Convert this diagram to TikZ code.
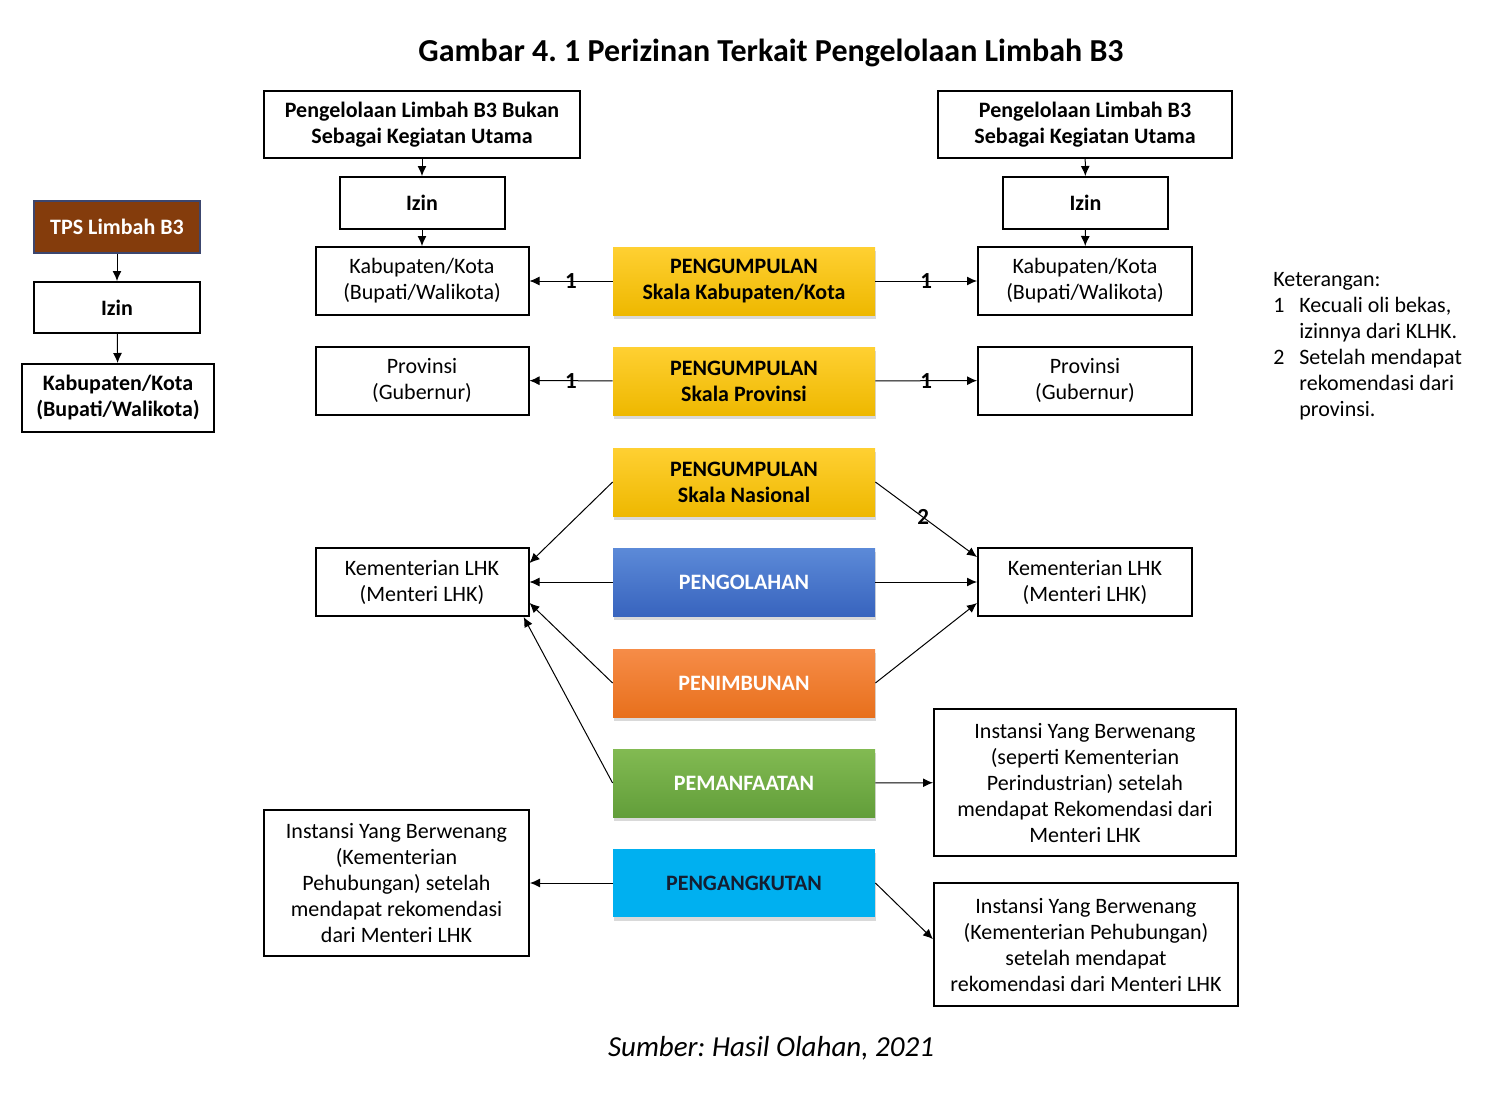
\documentclass[tikz,border=0pt]{standalone}
\usepackage{fontspec}
\setmainfont{Carlito}
\usetikzlibrary{arrows.meta,shadows}
\frenchspacing

\definecolor{tpsbrown}{RGB}{132,60,12}
\definecolor{tpsedge}{RGB}{60,70,110}

\tikzset{
  txt/.style={font=\fontsize{11}{13}\selectfont},
  box/.style={draw, line width=1pt, align=center, inner sep=0pt, txt},
  boldbox/.style={box, font=\fontsize{11}{13}\selectfont\bfseries},
  stage/.style={inner sep=0pt, align=center, minimum width=131pt, minimum height=34pt,
    font=\fontsize{11}{13}\selectfont\bfseries,
    drop shadow={opacity=0.3, shadow xshift=0.5pt, shadow yshift=-2pt}},
  arr/.style={-{Latex[length=5pt,width=4.5pt]}, line width=0.5pt},
  num/.style={font=\fontsize{11.5}{13}\selectfont\bfseries, inner sep=0pt}
}

\begin{document}
\begin{tikzpicture}[x=0.5pt,y=-0.5pt]
  \useasboundingbox (0,0) rectangle (1510,1093);

  \node[font=\fontsize{16}{19}\selectfont\bfseries] (title) at (771,53)
    {Gambar 4. 1 Perizinan Terkait Pengelolaan Limbah B3};

  % kolom kiri: TPS
  \node[boldbox, fill=tpsbrown, draw=tpsedge, text=white, minimum width=83pt, minimum height=26pt] (tps) at (117,227) {TPS Limbah B3};
  \node[boldbox, minimum width=83pt, minimum height=25.5pt] (izinT) at (117,307.5) {Izin};
  \node[boldbox, minimum width=96pt, minimum height=34pt] (kabT) at (118,398) {Kabupaten/Kota\\(Bupati/Walikota)};
  \draw[arr] (tps) -- (izinT);
  \draw[arr] (izinT) -- (kabT);

  % bukan kegiatan utama
  \node[boldbox, minimum width=158pt, minimum height=33.5pt] (topL) at (422,124.5) {Pengelolaan Limbah B3 Bukan\\Sebagai Kegiatan Utama};
  \node[boldbox, minimum width=82.5pt, minimum height=26pt] (izinL) at (422,203) {Izin};
  \node[box, minimum width=106.5pt, minimum height=34pt] (kabL) at (422,281) {Kabupaten/Kota\\(Bupati/Walikota)};
  \node[box, minimum width=106.5pt, minimum height=34pt] (provL) at (422,380.5) {Provinsi\\(Gubernur)};
  \node[box, minimum width=106.5pt, minimum height=34pt] (kemL) at (422,582) {Kementerian LHK\\(Menteri LHK)};
  \node[box, minimum width=132.5pt, minimum height=73pt] (instL) at (396.5,883) {Instansi Yang Berwenang\\(Kementerian\\Pehubungan) setelah\\mendapat rekomendasi\\dari Menteri LHK};
  \draw[arr] (topL) -- (izinL);
  \draw[arr] (izinL) -- (kabL);

  % kegiatan utama
  \node[boldbox, minimum width=147pt, minimum height=33.5pt] (topR) at (1085,124.5) {Pengelolaan Limbah B3\\Sebagai Kegiatan Utama};
  \node[boldbox, minimum width=82.5pt, minimum height=26pt] (izinR) at (1085.5,203) {Izin};
  \node[box, minimum width=107pt, minimum height=34pt] (kabR) at (1085,281) {Kabupaten/Kota\\(Bupati/Walikota)};
  \node[box, minimum width=107pt, minimum height=34pt] (provR) at (1085,380.5) {Provinsi\\(Gubernur)};
  \node[box, minimum width=107pt, minimum height=34pt] (kemR) at (1085,582) {Kementerian LHK\\(Menteri LHK)};
  \node[box, minimum width=151pt, minimum height=73.5pt] (instR) at (1085,782.5) {Instansi Yang Berwenang\\(seperti Kementerian\\Perindustrian) setelah\\mendapat Rekomendasi dari\\Menteri LHK};
  \node[box, minimum width=152pt, minimum height=61.5pt] (angkR) at (1086,944.5) {Instansi Yang Berwenang\\(Kementerian Pehubungan)\\setelah mendapat\\rekomendasi dari Menteri LHK};
  \draw[arr] (topR) -- (izinR);
  \draw[arr] (izinR) -- (kabR);

  % kegiatan
  \node[stage, top color={rgb,255:red,255;green,208;blue,50}, bottom color={rgb,255:red,238;green,184;blue,0}] (kumKab) at (744,281) {PENGUMPULAN\\Skala Kabupaten/Kota};
  \node[stage, top color={rgb,255:red,255;green,208;blue,50}, bottom color={rgb,255:red,238;green,184;blue,0}] (kumProv) at (744,381) {PENGUMPULAN\\Skala Provinsi};
  \node[stage, top color={rgb,255:red,255;green,208;blue,50}, bottom color={rgb,255:red,238;green,184;blue,0}] (kumNas) at (744,482) {PENGUMPULAN\\Skala Nasional};
  \node[stage, text=white, top color={rgb,255:red,92;green,138;blue,216}, bottom color={rgb,255:red,56;green,100;blue,190}] (olah) at (744,582) {PENGOLAHAN};
  \node[stage, text=white, top color={rgb,255:red,246;green,140;blue,72}, bottom color={rgb,255:red,232;green,112;blue,28}] (timbun) at (744,683) {PENIMBUNAN};
  \node[stage, text=white, top color={rgb,255:red,130;green,186;blue,82}, bottom color={rgb,255:red,98;green,158;blue,58}] (manfaat) at (744,783) {PEMANFAATAN};
  \node[stage, text={rgb,255:red,20;green,30;blue,50}, fill={rgb,255:red,0;green,176;blue,240}] (angkut) at (744,883) {PENGANGKUTAN};

  % panah
  \draw[arr] (kumKab) -- node[num] {1} (kabL);
  \draw[arr] (kumKab) -- node[num] {1} (kabR);
  \draw[arr] (kumProv) -- node[num] {1} (provL);
  \draw[arr] (kumProv) -- node[num] {1} (provR);
  \draw[arr] (kumNas.west) -- (kemL.10);
  \draw[arr] (kumNas.east) -- node[num, pos=0.47] {2} (kemR.167);
  \draw[arr] (olah) -- (kemL);
  \draw[arr] (olah) -- (kemR);
  \draw[arr] (timbun.west) -- (kemL.-11);
  \draw[arr] (timbun.east) -- (kemR.191);
  \draw[arr] (manfaat.west) -- (kemL.-19);
  \draw[arr] (manfaat) -- (instR);
  \draw[arr] (angkut) -- (instL);
  \draw[arr] (angkut.east) -- (angkR.178);

  % keterangan
  \node[txt, anchor=north west, align=left, inner sep=0pt] (ket) at (1273,272)
    {Keterangan:\\
     \makebox[13pt][l]{1}Kecuali oli bekas,\\
     \hspace*{13pt}izinnya dari KLHK.\\
     \makebox[13pt][l]{2}Setelah mendapat\\
     \hspace*{13pt}rekomendasi dari\\
     \hspace*{13pt}provinsi.};

  \node[font=\fontsize{14.5}{17}\selectfont\itshape] (sumber) at (771,1048) {Sumber: Hasil Olahan, 2021};
\end{tikzpicture}
\end{document}
